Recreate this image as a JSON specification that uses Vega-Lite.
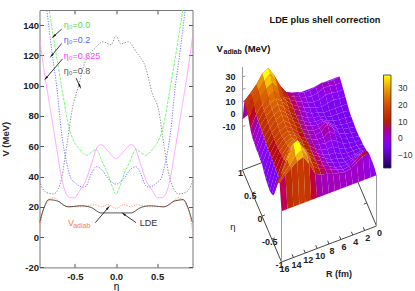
{"$schema":"https://vega.github.io/schema/vega-lite/v6.json","padding":{"left":0.5,"top":9,"right":0,"bottom":0},"background":"white","spacing":0,"bounds":"flush","config":{"view":{"stroke":null},"font":"Liberation Sans"},
"datasets":{
"curves":[
{"c":"g","eta":-0.82,"V":155},{"c":"g","eta":-0.81,"V":150},{"c":"g","eta":-0.76,"V":132},{"c":"g","eta":-0.66,"V":99},{"c":"g","eta":-0.57,"V":72},{"c":"g","eta":-0.5,"V":62},{"c":"g","eta":-0.45,"V":58.5},{"c":"g","eta":-0.36,"V":54},{"c":"g","eta":-0.3,"V":56},{"c":"g","eta":-0.24,"V":58},{"c":"g","eta":-0.17,"V":50},{"c":"g","eta":-0.1,"V":42},{"c":"g","eta":-0.05,"V":34},{"c":"g","eta":0,"V":28.5},{"c":"g","eta":0.05,"V":34},{"c":"g","eta":0.1,"V":42},{"c":"g","eta":0.17,"V":50},{"c":"g","eta":0.24,"V":58},{"c":"g","eta":0.3,"V":56},{"c":"g","eta":0.36,"V":54},{"c":"g","eta":0.45,"V":58.5},{"c":"g","eta":0.5,"V":62},{"c":"g","eta":0.57,"V":72},{"c":"g","eta":0.66,"V":99},{"c":"g","eta":0.76,"V":132},{"c":"g","eta":0.81,"V":150},{"c":"g","eta":0.82,"V":155},
{"c":"b","eta":-0.86,"V":160},{"c":"b","eta":-0.84,"V":150},{"c":"b","eta":-0.78,"V":123},{"c":"b","eta":-0.72,"V":99},{"c":"b","eta":-0.66,"V":68},{"c":"b","eta":-0.6,"V":49},{"c":"b","eta":-0.55,"V":39},{"c":"b","eta":-0.5,"V":36},{"c":"b","eta":-0.4,"V":33},{"c":"b","eta":-0.36,"V":34},{"c":"b","eta":-0.3,"V":42},{"c":"b","eta":-0.24,"V":46.5},{"c":"b","eta":-0.18,"V":45},{"c":"b","eta":-0.1,"V":39},{"c":"b","eta":0,"V":35},{"c":"b","eta":0.1,"V":39},{"c":"b","eta":0.18,"V":45},{"c":"b","eta":0.24,"V":46.5},{"c":"b","eta":0.3,"V":42},{"c":"b","eta":0.36,"V":34},{"c":"b","eta":0.4,"V":33},{"c":"b","eta":0.5,"V":36},{"c":"b","eta":0.55,"V":39},{"c":"b","eta":0.6,"V":49},{"c":"b","eta":0.66,"V":68},{"c":"b","eta":0.72,"V":99},{"c":"b","eta":0.78,"V":123},{"c":"b","eta":0.84,"V":150},{"c":"b","eta":0.86,"V":160},
{"c":"m","eta":-0.93,"V":132},{"c":"m","eta":-0.86,"V":105},{"c":"m","eta":-0.8,"V":85},{"c":"m","eta":-0.73,"V":61.6},{"c":"m","eta":-0.66,"V":39},{"c":"m","eta":-0.6,"V":28},{"c":"m","eta":-0.55,"V":26},{"c":"m","eta":-0.5,"V":26},{"c":"m","eta":-0.45,"V":30},{"c":"m","eta":-0.37,"V":37},{"c":"m","eta":-0.3,"V":48},{"c":"m","eta":-0.22,"V":60},{"c":"m","eta":-0.18,"V":61},{"c":"m","eta":-0.1,"V":57},{"c":"m","eta":0,"V":52},{"c":"m","eta":0.1,"V":57},{"c":"m","eta":0.18,"V":61},{"c":"m","eta":0.22,"V":60},{"c":"m","eta":0.3,"V":48},{"c":"m","eta":0.37,"V":37},{"c":"m","eta":0.45,"V":30},{"c":"m","eta":0.5,"V":26},{"c":"m","eta":0.55,"V":26},{"c":"m","eta":0.6,"V":28},{"c":"m","eta":0.66,"V":39},{"c":"m","eta":0.73,"V":61.6},{"c":"m","eta":0.8,"V":85},{"c":"m","eta":0.86,"V":105},{"c":"m","eta":0.93,"V":132},
{"c":"k","eta":-0.93,"V":37},{"c":"k","eta":-0.88,"V":31},{"c":"k","eta":-0.82,"V":29},{"c":"k","eta":-0.76,"V":28.5},{"c":"k","eta":-0.7,"V":32},{"c":"k","eta":-0.66,"V":39},{"c":"k","eta":-0.6,"V":60},{"c":"k","eta":-0.53,"V":85},{"c":"k","eta":-0.46,"V":99},{"c":"k","eta":-0.38,"V":115},{"c":"k","eta":-0.25,"V":125},{"c":"k","eta":-0.16,"V":129},{"c":"k","eta":-0.06,"V":127},{"c":"k","eta":0,"V":133},{"c":"k","eta":0.06,"V":127.6},{"c":"k","eta":0.15,"V":129},{"c":"k","eta":0.25,"V":122},{"c":"k","eta":0.36,"V":112},{"c":"k","eta":0.44,"V":95},{"c":"k","eta":0.52,"V":83.5},{"c":"k","eta":0.58,"V":61.6},{"c":"k","eta":0.65,"V":40},{"c":"k","eta":0.7,"V":32},{"c":"k","eta":0.76,"V":28.5},{"c":"k","eta":0.82,"V":29},{"c":"k","eta":0.88,"V":31},{"c":"k","eta":0.93,"V":37},
{"c":"a","eta":-0.93,"V":4},{"c":"a","eta":-0.88,"V":18.6},{"c":"a","eta":-0.76,"V":26},{"c":"a","eta":-0.62,"V":20.5},{"c":"a","eta":-0.42,"V":20},{"c":"a","eta":-0.25,"V":21.4},{"c":"a","eta":-0.18,"V":20},{"c":"a","eta":-0.1,"V":21.5},{"c":"a","eta":0,"V":19},{"c":"a","eta":0.1,"V":21.5},{"c":"a","eta":0.18,"V":20},{"c":"a","eta":0.25,"V":21.4},{"c":"a","eta":0.42,"V":20},{"c":"a","eta":0.62,"V":20.5},{"c":"a","eta":0.76,"V":26},{"c":"a","eta":0.88,"V":18.6},{"c":"a","eta":0.93,"V":4},
{"c":"l","eta":-0.93,"V":9.6},{"c":"l","eta":-0.88,"V":18.6},{"c":"l","eta":-0.82,"V":24.7},{"c":"l","eta":-0.72,"V":24},{"c":"l","eta":-0.58,"V":20},{"c":"l","eta":-0.42,"V":20.7},{"c":"l","eta":-0.3,"V":19.5},{"c":"l","eta":-0.18,"V":16},{"c":"l","eta":-0.1,"V":16},{"c":"l","eta":0,"V":16},{"c":"l","eta":0.1,"V":16},{"c":"l","eta":0.18,"V":16},{"c":"l","eta":0.3,"V":19.5},{"c":"l","eta":0.42,"V":20.7},{"c":"l","eta":0.58,"V":20},{"c":"l","eta":0.72,"V":24},{"c":"l","eta":0.82,"V":24.7},{"c":"l","eta":0.88,"V":18.6},{"c":"l","eta":0.93,"V":9.6}],
"arrows":[{"e1":-0.66,"v1":137.4,"e2":-0.76,"v2":132.5},{"e1":-0.66,"v1":127.9,"e2":-0.785,"v2":119.7},{"e1":-0.65,"v1":117.7,"e2":-0.855,"v2":104.7},{"e1":-0.485,"v1":105,"e2":-0.437,"v2":99.3},{"e1":-0.25,"v1":9.6,"e2":-0.093,"v2":19.6},{"e1":0.243,"v1":9.6,"e2":0.089,"v2":15.4}],
"notes":[{"t":"η₀=0.0","eta":-0.636,"V":140,"k":"g"},{"t":"η₀=0.2","eta":-0.636,"V":130.3,"k":"b"},{"t":"η₀=0.625","eta":-0.636,"V":119.7,"k":"m"},{"t":"η₀=0.8","eta":-0.636,"V":109.8,"k":"k"},{"t":"LDE","eta":0.29,"V":9.6,"k":"l"},{"t":"V","eta":-0.585,"V":9.6,"k":"a"}],
"surface":[
{"eta":1,"R":0,"V":1},{"eta":1,"R":1,"V":1},{"eta":1,"R":2,"V":1},{"eta":1,"R":3,"V":1},{"eta":1,"R":4,"V":0},{"eta":1,"R":5,"V":0},{"eta":1,"R":6,"V":0},{"eta":1,"R":7,"V":0},{"eta":1,"R":8,"V":0},{"eta":1,"R":9,"V":1},{"eta":1,"R":10,"V":2},{"eta":1,"R":11,"V":3},{"eta":1,"R":12,"V":4},{"eta":1,"R":13,"V":2},{"eta":1,"R":14,"V":0},{"eta":1,"R":15,"V":-2},{"eta":1,"R":16,"V":-4},
{"eta":0.9,"R":0,"V":5},{"eta":0.9,"R":1,"V":4.3},{"eta":0.9,"R":2,"V":4.5},{"eta":0.9,"R":3,"V":5.5},{"eta":0.9,"R":4,"V":4},{"eta":0.9,"R":5,"V":3},{"eta":0.9,"R":6,"V":3},{"eta":0.9,"R":7,"V":5},{"eta":0.9,"R":8,"V":6.5},{"eta":0.9,"R":9,"V":9},{"eta":0.9,"R":10,"V":16},{"eta":0.9,"R":11,"V":26},{"eta":0.9,"R":12,"V":34},{"eta":0.9,"R":13,"V":31},{"eta":0.9,"R":14,"V":24},{"eta":0.9,"R":15,"V":19},{"eta":0.9,"R":16,"V":14.6},
{"eta":0.8,"R":0,"V":4},{"eta":0.8,"R":1,"V":4},{"eta":0.8,"R":2,"V":5},{"eta":0.8,"R":3,"V":5},{"eta":0.8,"R":4,"V":3},{"eta":0.8,"R":5,"V":2},{"eta":0.8,"R":6,"V":3},{"eta":0.8,"R":7,"V":5},{"eta":0.8,"R":8,"V":7},{"eta":0.8,"R":9,"V":10},{"eta":0.8,"R":10,"V":16},{"eta":0.8,"R":11,"V":25},{"eta":0.8,"R":12,"V":33},{"eta":0.8,"R":13,"V":29},{"eta":0.8,"R":14,"V":23},{"eta":0.8,"R":15,"V":18},{"eta":0.8,"R":16,"V":12},
{"eta":0.7,"R":0,"V":2},{"eta":0.7,"R":1,"V":2},{"eta":0.7,"R":2,"V":3},{"eta":0.7,"R":3,"V":3},{"eta":0.7,"R":4,"V":1},{"eta":0.7,"R":5,"V":1},{"eta":0.7,"R":6,"V":2},{"eta":0.7,"R":7,"V":5},{"eta":0.7,"R":8,"V":7},{"eta":0.7,"R":9,"V":10},{"eta":0.7,"R":10,"V":15},{"eta":0.7,"R":11,"V":23},{"eta":0.7,"R":12,"V":29},{"eta":0.7,"R":13,"V":26},{"eta":0.7,"R":14,"V":21},{"eta":0.7,"R":15,"V":16},{"eta":0.7,"R":16,"V":8},
{"eta":0.6,"R":0,"V":0},{"eta":0.6,"R":1,"V":0},{"eta":0.6,"R":2,"V":1},{"eta":0.6,"R":3,"V":0},{"eta":0.6,"R":4,"V":-1},{"eta":0.6,"R":5,"V":0},{"eta":0.6,"R":6,"V":2},{"eta":0.6,"R":7,"V":4},{"eta":0.6,"R":8,"V":7},{"eta":0.6,"R":9,"V":10},{"eta":0.6,"R":10,"V":15},{"eta":0.6,"R":11,"V":21},{"eta":0.6,"R":12,"V":26},{"eta":0.6,"R":13,"V":23},{"eta":0.6,"R":14,"V":19},{"eta":0.6,"R":15,"V":13},{"eta":0.6,"R":16,"V":3},
{"eta":0.5,"R":0,"V":-2},{"eta":0.5,"R":1,"V":-2},{"eta":0.5,"R":2,"V":-2},{"eta":0.5,"R":3,"V":-2},{"eta":0.5,"R":4,"V":-2},{"eta":0.5,"R":5,"V":0},{"eta":0.5,"R":6,"V":1},{"eta":0.5,"R":7,"V":4},{"eta":0.5,"R":8,"V":7},{"eta":0.5,"R":9,"V":10},{"eta":0.5,"R":10,"V":14},{"eta":0.5,"R":11,"V":20},{"eta":0.5,"R":12,"V":24},{"eta":0.5,"R":13,"V":22},{"eta":0.5,"R":14,"V":18},{"eta":0.5,"R":15,"V":11},{"eta":0.5,"R":16,"V":0},
{"eta":0.4,"R":0,"V":-4},{"eta":0.4,"R":1,"V":-3},{"eta":0.4,"R":2,"V":-3},{"eta":0.4,"R":3,"V":-3},{"eta":0.4,"R":4,"V":-2},{"eta":0.4,"R":5,"V":1},{"eta":0.4,"R":6,"V":1},{"eta":0.4,"R":7,"V":3},{"eta":0.4,"R":8,"V":6},{"eta":0.4,"R":9,"V":9},{"eta":0.4,"R":10,"V":13},{"eta":0.4,"R":11,"V":19},{"eta":0.4,"R":12,"V":23},{"eta":0.4,"R":13,"V":21},{"eta":0.4,"R":14,"V":17},{"eta":0.4,"R":15,"V":11},{"eta":0.4,"R":16,"V":-1},
{"eta":0.3,"R":0,"V":-5},{"eta":0.3,"R":1,"V":-4},{"eta":0.3,"R":2,"V":-4},{"eta":0.3,"R":3,"V":-3},{"eta":0.3,"R":4,"V":-1},{"eta":0.3,"R":5,"V":2},{"eta":0.3,"R":6,"V":2},{"eta":0.3,"R":7,"V":3},{"eta":0.3,"R":8,"V":6},{"eta":0.3,"R":9,"V":9},{"eta":0.3,"R":10,"V":13},{"eta":0.3,"R":11,"V":18},{"eta":0.3,"R":12,"V":22},{"eta":0.3,"R":13,"V":20},{"eta":0.3,"R":14,"V":16},{"eta":0.3,"R":15,"V":10},{"eta":0.3,"R":16,"V":-2},
{"eta":0.2,"R":0,"V":-5},{"eta":0.2,"R":1,"V":-5},{"eta":0.2,"R":2,"V":-4},{"eta":0.2,"R":3,"V":-3},{"eta":0.2,"R":4,"V":1},{"eta":0.2,"R":5,"V":4},{"eta":0.2,"R":6,"V":3},{"eta":0.2,"R":7,"V":4},{"eta":0.2,"R":8,"V":6},{"eta":0.2,"R":9,"V":9},{"eta":0.2,"R":10,"V":13},{"eta":0.2,"R":11,"V":18},{"eta":0.2,"R":12,"V":22},{"eta":0.2,"R":13,"V":20},{"eta":0.2,"R":14,"V":15},{"eta":0.2,"R":15,"V":9},{"eta":0.2,"R":16,"V":-2},
{"eta":0.1,"R":0,"V":-6},{"eta":0.1,"R":1,"V":-5},{"eta":0.1,"R":2,"V":-4},{"eta":0.1,"R":3,"V":-2},{"eta":0.1,"R":4,"V":3},{"eta":0.1,"R":5,"V":7},{"eta":0.1,"R":6,"V":4},{"eta":0.1,"R":7,"V":4},{"eta":0.1,"R":8,"V":6},{"eta":0.1,"R":9,"V":9},{"eta":0.1,"R":10,"V":13},{"eta":0.1,"R":11,"V":17},{"eta":0.1,"R":12,"V":21},{"eta":0.1,"R":13,"V":19},{"eta":0.1,"R":14,"V":15},{"eta":0.1,"R":15,"V":8},{"eta":0.1,"R":16,"V":-3},
{"eta":0,"R":0,"V":-6},{"eta":0,"R":1,"V":-5},{"eta":0,"R":2,"V":-4},{"eta":0,"R":3,"V":-2},{"eta":0,"R":4,"V":4},{"eta":0,"R":5,"V":9},{"eta":0,"R":6,"V":5},{"eta":0,"R":7,"V":4},{"eta":0,"R":8,"V":6},{"eta":0,"R":9,"V":9},{"eta":0,"R":10,"V":12},{"eta":0,"R":11,"V":17},{"eta":0,"R":12,"V":20},{"eta":0,"R":13,"V":18},{"eta":0,"R":14,"V":14},{"eta":0,"R":15,"V":7},{"eta":0,"R":16,"V":-3},
{"eta":-0.1,"R":0,"V":-6},{"eta":-0.1,"R":1,"V":-5},{"eta":-0.1,"R":2,"V":-4},{"eta":-0.1,"R":3,"V":-2},{"eta":-0.1,"R":4,"V":3},{"eta":-0.1,"R":5,"V":7},{"eta":-0.1,"R":6,"V":4},{"eta":-0.1,"R":7,"V":4},{"eta":-0.1,"R":8,"V":6},{"eta":-0.1,"R":9,"V":9},{"eta":-0.1,"R":10,"V":12},{"eta":-0.1,"R":11,"V":17},{"eta":-0.1,"R":12,"V":20},{"eta":-0.1,"R":13,"V":18},{"eta":-0.1,"R":14,"V":14},{"eta":-0.1,"R":15,"V":7},{"eta":-0.1,"R":16,"V":-6},
{"eta":-0.2,"R":0,"V":-5},{"eta":-0.2,"R":1,"V":-5},{"eta":-0.2,"R":2,"V":-4},{"eta":-0.2,"R":3,"V":-3},{"eta":-0.2,"R":4,"V":1},{"eta":-0.2,"R":5,"V":4},{"eta":-0.2,"R":6,"V":3},{"eta":-0.2,"R":7,"V":4},{"eta":-0.2,"R":8,"V":6},{"eta":-0.2,"R":9,"V":9},{"eta":-0.2,"R":10,"V":13},{"eta":-0.2,"R":11,"V":18},{"eta":-0.2,"R":12,"V":21},{"eta":-0.2,"R":13,"V":19},{"eta":-0.2,"R":14,"V":14},{"eta":-0.2,"R":15,"V":7},{"eta":-0.2,"R":16,"V":-8},
{"eta":-0.3,"R":0,"V":-5},{"eta":-0.3,"R":1,"V":-4},{"eta":-0.3,"R":2,"V":-4},{"eta":-0.3,"R":3,"V":-3},{"eta":-0.3,"R":4,"V":-1},{"eta":-0.3,"R":5,"V":2},{"eta":-0.3,"R":6,"V":2},{"eta":-0.3,"R":7,"V":3},{"eta":-0.3,"R":8,"V":6},{"eta":-0.3,"R":9,"V":10},{"eta":-0.3,"R":10,"V":13},{"eta":-0.3,"R":11,"V":18},{"eta":-0.3,"R":12,"V":22},{"eta":-0.3,"R":13,"V":20},{"eta":-0.3,"R":14,"V":15},{"eta":-0.3,"R":15,"V":6},{"eta":-0.3,"R":16,"V":-9},
{"eta":-0.4,"R":0,"V":-4},{"eta":-0.4,"R":1,"V":-3},{"eta":-0.4,"R":2,"V":-3},{"eta":-0.4,"R":3,"V":-3},{"eta":-0.4,"R":4,"V":-2},{"eta":-0.4,"R":5,"V":1},{"eta":-0.4,"R":6,"V":1},{"eta":-0.4,"R":7,"V":3},{"eta":-0.4,"R":8,"V":6},{"eta":-0.4,"R":9,"V":10},{"eta":-0.4,"R":10,"V":13},{"eta":-0.4,"R":11,"V":19},{"eta":-0.4,"R":12,"V":24},{"eta":-0.4,"R":13,"V":21},{"eta":-0.4,"R":14,"V":15},{"eta":-0.4,"R":15,"V":6},{"eta":-0.4,"R":16,"V":-10},
{"eta":-0.5,"R":0,"V":-3},{"eta":-0.5,"R":1,"V":-1},{"eta":-0.5,"R":2,"V":-2},{"eta":-0.5,"R":3,"V":-2},{"eta":-0.5,"R":4,"V":-2},{"eta":-0.5,"R":5,"V":0},{"eta":-0.5,"R":6,"V":1},{"eta":-0.5,"R":7,"V":4},{"eta":-0.5,"R":8,"V":7},{"eta":-0.5,"R":9,"V":10},{"eta":-0.5,"R":10,"V":14},{"eta":-0.5,"R":11,"V":21},{"eta":-0.5,"R":12,"V":26},{"eta":-0.5,"R":13,"V":23},{"eta":-0.5,"R":14,"V":16},{"eta":-0.5,"R":15,"V":5},{"eta":-0.5,"R":16,"V":-9},
{"eta":-0.6,"R":0,"V":-2},{"eta":-0.6,"R":1,"V":2},{"eta":-0.6,"R":2,"V":1},{"eta":-0.6,"R":3,"V":0},{"eta":-0.6,"R":4,"V":-1},{"eta":-0.6,"R":5,"V":0},{"eta":-0.6,"R":6,"V":2},{"eta":-0.6,"R":7,"V":4},{"eta":-0.6,"R":8,"V":7},{"eta":-0.6,"R":9,"V":10},{"eta":-0.6,"R":10,"V":15},{"eta":-0.6,"R":11,"V":23},{"eta":-0.6,"R":12,"V":31},{"eta":-0.6,"R":13,"V":28},{"eta":-0.6,"R":14,"V":18},{"eta":-0.6,"R":15,"V":6},{"eta":-0.6,"R":16,"V":-6},
{"eta":-0.7,"R":0,"V":-1},{"eta":-0.7,"R":1,"V":5},{"eta":-0.7,"R":2,"V":5},{"eta":-0.7,"R":3,"V":3},{"eta":-0.7,"R":4,"V":1},{"eta":-0.7,"R":5,"V":1},{"eta":-0.7,"R":6,"V":2},{"eta":-0.7,"R":7,"V":5},{"eta":-0.7,"R":8,"V":7},{"eta":-0.7,"R":9,"V":10},{"eta":-0.7,"R":10,"V":14},{"eta":-0.7,"R":11,"V":24},{"eta":-0.7,"R":12,"V":33},{"eta":-0.7,"R":13,"V":34},{"eta":-0.7,"R":14,"V":23},{"eta":-0.7,"R":15,"V":14},{"eta":-0.7,"R":16,"V":7},
{"eta":-0.8,"R":0,"V":-1},{"eta":-0.8,"R":1,"V":10},{"eta":-0.8,"R":2,"V":9},{"eta":-0.8,"R":3,"V":5},{"eta":-0.8,"R":4,"V":3},{"eta":-0.8,"R":5,"V":2},{"eta":-0.8,"R":6,"V":4},{"eta":-0.8,"R":7,"V":6},{"eta":-0.8,"R":8,"V":8},{"eta":-0.8,"R":9,"V":10},{"eta":-0.8,"R":10,"V":14},{"eta":-0.8,"R":11,"V":24},{"eta":-0.8,"R":12,"V":31},{"eta":-0.8,"R":13,"V":28},{"eta":-0.8,"R":14,"V":22},{"eta":-0.8,"R":15,"V":17},{"eta":-0.8,"R":16,"V":11},
{"eta":-0.9,"R":0,"V":-2},{"eta":-0.9,"R":1,"V":12},{"eta":-0.9,"R":2,"V":11},{"eta":-0.9,"R":3,"V":8},{"eta":-0.9,"R":4,"V":5},{"eta":-0.9,"R":5,"V":4},{"eta":-0.9,"R":6,"V":5},{"eta":-0.9,"R":7,"V":6},{"eta":-0.9,"R":8,"V":8},{"eta":-0.9,"R":9,"V":9},{"eta":-0.9,"R":10,"V":11.6},{"eta":-0.9,"R":11,"V":21},{"eta":-0.9,"R":12,"V":28.7},{"eta":-0.9,"R":13,"V":27},{"eta":-0.9,"R":14,"V":23.5},{"eta":-0.9,"R":15,"V":20},{"eta":-0.9,"R":16,"V":15}],
"wall":[{"R":0,"top":-2,"low":-4,"shade":-1},{"R":1,"top":12,"low":-4,"shade":0},{"R":2,"top":11,"low":-4,"shade":1},{"R":3,"top":8,"low":-4,"shade":1},{"R":4,"top":5,"low":-4,"shade":1},{"R":5,"top":4,"low":-4,"shade":1},{"R":6,"top":5,"low":-4,"shade":2},{"R":7,"top":6,"low":-4,"shade":2},{"R":8,"top":8,"low":-4,"shade":2},{"R":9,"top":9,"low":-4,"shade":3},{"R":10,"top":11.6,"low":-4,"shade":8},{"R":11,"top":21,"low":-4,"shade":15},{"R":12,"top":28.7,"low":-4,"shade":16},{"R":13,"top":27,"low":-4,"shade":15},{"R":14,"top":23.5,"low":-4,"shade":13},{"R":15,"top":20,"low":-4,"shade":7},{"R":16,"top":15,"low":-4,"shade":2}],
"darkEdges":[{"R":16,"eta":-1,"V":-45,"R2":0,"eta2":-1,"V2":-45},{"R":16,"eta":-1,"V":-45,"R2":16,"eta2":1,"V2":-45},{"R":0,"eta":-1,"V":-45,"R2":0,"eta2":1,"V2":-45},{"R":16,"eta":1,"V":-45,"R2":0,"eta2":1,"V2":-45},
{"R":14,"eta":-1,"V":-45,"R2":14,"eta2":-0.93,"V2":-45},{"R":12,"eta":-1,"V":-45,"R2":12,"eta2":-0.93,"V2":-45},{"R":10,"eta":-1,"V":-45,"R2":10,"eta2":-0.93,"V2":-45},{"R":8,"eta":-1,"V":-45,"R2":8,"eta2":-0.93,"V2":-45},{"R":6,"eta":-1,"V":-45,"R2":6,"eta2":-0.93,"V2":-45},{"R":4,"eta":-1,"V":-45,"R2":4,"eta2":-0.93,"V2":-45},{"R":2,"eta":-1,"V":-45,"R2":2,"eta2":-0.93,"V2":-45},
{"R":16,"eta":0.5,"V":-45,"R2":15.5,"eta2":0.5,"V2":-45},{"R":16,"eta":0,"V":-45,"R2":15.5,"eta2":0,"V2":-45},{"R":16,"eta":-0.5,"V":-45,"R2":15.5,"eta2":-0.5,"V2":-45},{"R":0,"eta":-0.5,"V":-45,"R2":0.5,"eta2":-0.5,"V2":-45}],
"greyEdges":[{"R":16,"eta":1,"V":-45,"R2":16,"eta2":1,"V2":38},{"R":16,"eta":-1,"V":-45,"R2":16,"eta2":-1,"V2":-4},{"R":0,"eta":-1,"V":-45,"R2":0,"eta2":-1,"V2":-4},
{"R":16,"eta":1,"V":30,"R2":15.5,"eta2":1,"V2":30},{"R":16,"eta":1,"V":20,"R2":15.5,"eta2":1,"V2":20},{"R":16,"eta":1,"V":10,"R2":15.5,"eta2":1,"V2":10},{"R":16,"eta":1,"V":0,"R2":15.5,"eta2":1,"V2":0},{"R":16,"eta":1,"V":-10,"R2":15.5,"eta2":1,"V2":-10}],
"rLabels":[{"t":"16","R":16},{"t":"14","R":14},{"t":"12","R":12},{"t":"10","R":10},{"t":"8","R":8},{"t":"6","R":6},{"t":"4","R":4},{"t":"2","R":2},{"t":"0","R":0}],
"etaLabels":[{"t":"1","eta":1},{"t":"0.5","eta":0.5},{"t":"0","eta":0},{"t":"-0.5","eta":-0.5},{"t":"-1","eta":-1}],
"vLabels":[{"t":"30","V":30},{"t":"20","V":20},{"t":"10","V":10},{"t":"0","V":0},{"t":"-10","V":-10}]
},
"hconcat":[
{"width":153,"height":257.4,
"layer":[
{"data":{"name":"curves"},"mark":{"type":"line","clip":true,"strokeWidth":0.9,"interpolate":"monotone"},
"encoding":{"x":{"field":"eta","type":"quantitative","scale":{"domain":[-0.93,0.93],"nice":false,"zero":false},"axis":{"values":[-0.5,0,0.5],"title":"η","titleFontSize":10,"titleFontWeight":"normal","titlePadding":1,"labelFontSize":9.5,"labelFontWeight":"bold","labelColor":"#222","tickSize":-4,"tickColor":"#555","domainColor":"#777","domainWidth":1,"grid":false,"labelPadding":8,"labelExpr":"replace(datum.label,'−','-')"}},
"y":{"field":"V","type":"quantitative","scale":{"domain":[-20,150],"nice":false,"zero":false},"axis":{"values":[-20,0,20,40,60,80,100,120,140],"title":"V (MeV)","titleFontSize":9.5,"titleFontWeight":"bold","titleColor":"#222","titlePadding":12,"labelFontSize":9.5,"labelFontWeight":"bold","labelColor":"#222","tickSize":-4,"tickColor":"#555","domainColor":"#777","domainWidth":1,"grid":false,"labelPadding":5,"labelExpr":"replace(datum.label,'−','-')"}},
"color":{"field":"c","type":"nominal","legend":null,"scale":{"domain":["g","b","m","k","a","l"],"range":["#66f566","#7070ff","#ff99ff","#808080","#ff9060","#333333"]}},
"strokeDash":{"field":"c","type":"nominal","legend":null,"scale":{"domain":["g","b","m","k","a","l"],"range":[[3,1.2],[1.3,1.3],[1,0],[1.3,1.5],[1.3,1.3],[1,0]]}},
"order":{"field":"eta","type":"quantitative"}}},
{"data":{"name":"curves"},"mark":{"type":"line","opacity":0,"clip":true},
"encoding":{"x":{"field":"eta","type":"quantitative","axis":{"orient":"top","values":[-0.5,0,0.5],"labels":false,"title":null,"tickSize":-4,"tickColor":"#555","domainColor":"#777","domainWidth":1,"grid":false}},
"y":{"field":"V","type":"quantitative","axis":{"orient":"right","values":[-20,0,20,40,60,80,100,120,140],"labels":false,"title":null,"tickSize":-4,"tickColor":"#555","domainColor":"#777","domainWidth":1,"grid":false}}}},
{"data":{"name":"arrows"},"mark":{"type":"rule","color":"#222","strokeWidth":0.9},"encoding":{"x":{"field":"e1","type":"quantitative","axis":null},"y":{"field":"v1","type":"quantitative","axis":null},"x2":{"field":"e2"},"y2":{"field":"v2"}}},
{"data":{"name":"arrows"},"transform":[{"calculate":"atan2((datum.e2-datum.e1)*82.4,(datum.v2-datum.v1)*1.515)*180/PI","as":"heading"}],"mark":{"type":"point","shape":"M0,-1L0.4,1L-0.4,1Z","filled":true,"color":"#111","opacity":1,"size":26},"encoding":{"x":{"field":"e2","type":"quantitative","axis":null},"y":{"field":"v2","type":"quantitative","axis":null},"angle":{"field":"heading","type":"quantitative","scale":null}}},
{"data":{"name":"notes"},"mark":{"type":"text","align":"left","baseline":"middle","fontSize":9},"encoding":{"x":{"field":"eta","type":"quantitative","axis":null},"y":{"field":"V","type":"quantitative","axis":null},"text":{"field":"t"},"color":{"field":"k","type":"nominal","legend":null,"scale":{"domain":["g","b","m","k","a","l"],"range":["#55dd55","#6060ff","#ff40ff","#555555","#ff7744","#333333"]}}}},
{"data":{"values":[{"t":"adiab","eta":-0.52,"V":7.4}]},"mark":{"type":"text","align":"left","baseline":"middle","fontSize":7,"color":"#ff7744"},"encoding":{"x":{"field":"eta","type":"quantitative","axis":null},"y":{"field":"V","type":"quantitative","axis":null},"text":{"field":"t"}}}
],
"resolve":{"axis":{"x":"independent","y":"independent"},"scale":{"color":"independent","strokeDash":"independent"}}},
{"width":221,"height":282,
"title":{"text":"LDE plus shell correction","anchor":"middle","frame":"group","offset":-15,"dx":22,"fontSize":9.2,"fontWeight":"bold","color":"#111"},
"layer":[
{"data":{"name":"darkEdges"},"transform":[{"calculate":"283+(16-datum.R)*5.94-(datum.eta+1)*19.5","as":"sx"},{"calculate":"261-(16-datum.R)*2.25-(datum.eta+1)*46-(datum.V+45)*1.24","as":"sy"},{"calculate":"283+(16-datum.R2)*5.94-(datum.eta2+1)*19.5","as":"sx2"},{"calculate":"261-(16-datum.R2)*2.25-(datum.eta2+1)*46-(datum.V2+45)*1.24","as":"sy2"}],"mark":{"type":"rule","color":"#333","strokeWidth":0.9},"encoding":{"x":{"field":"sx","type":"quantitative","axis":null,"scale":{"domain":[194,415],"nice":false,"zero":false}},"y":{"field":"sy","type":"quantitative","axis":null,"scale":{"domain":[291,9],"nice":false,"zero":false}},"x2":{"field":"sx2"},"y2":{"field":"sy2"}}},
{"data":{"name":"greyEdges"},"transform":[{"calculate":"283+(16-datum.R)*5.94-(datum.eta+1)*19.5","as":"sx"},{"calculate":"261-(16-datum.R)*2.25-(datum.eta+1)*46-(datum.V+45)*1.24","as":"sy"},{"calculate":"283+(16-datum.R2)*5.94-(datum.eta2+1)*19.5","as":"sx2"},{"calculate":"261-(16-datum.R2)*2.25-(datum.eta2+1)*46-(datum.V2+45)*1.24","as":"sy2"}],"mark":{"type":"rule","color":"#999","strokeWidth":1},"encoding":{"x":{"field":"sx","type":"quantitative","axis":null},"y":{"field":"sy","type":"quantitative","axis":null},"x2":{"field":"sx2"},"y2":{"field":"sy2"}}},
{"data":{"name":"surface"},"projection":{"type":"identity","scale":1,"translate":[-194,-9]},
"transform":[{"window":[{"op":"lead","field":"V","as":"Vn"},{"op":"lead","field":"eta","as":"etan"}],"groupby":["R"],"sort":[{"field":"eta","order":"descending"}]},{"filter":"datum.etan!=null"},{"window":[{"op":"lead","field":"V","as":"Vr"},{"op":"lead","field":"Vn","as":"Vrn"},{"op":"lead","field":"R","as":"Rn"}],"groupby":["eta"],"sort":[{"field":"R","order":"ascending"}]},{"filter":"datum.Rn!=null"},
{"calculate":"283+(16-datum.R)*5.94-(datum.eta+1)*19.5","as":"x1"},{"calculate":"261-(16-datum.R)*2.25-(datum.eta+1)*46-(datum.V+45)*1.24","as":"y1"},
{"calculate":"283+(16-datum.Rn)*5.94-(datum.eta+1)*19.5","as":"x2"},{"calculate":"261-(16-datum.Rn)*2.25-(datum.eta+1)*46-(datum.Vr+45)*1.24","as":"y2"},
{"calculate":"283+(16-datum.Rn)*5.94-(datum.etan+1)*19.5","as":"x3"},{"calculate":"261-(16-datum.Rn)*2.25-(datum.etan+1)*46-(datum.Vrn+45)*1.24","as":"y3"},
{"calculate":"283+(16-datum.R)*5.94-(datum.etan+1)*19.5","as":"x4"},{"calculate":"261-(16-datum.R)*2.25-(datum.etan+1)*46-(datum.Vn+45)*1.24","as":"y4"},
{"calculate":"(datum.V+datum.Vn+datum.Vr+datum.Vrn)/4","as":"mean"},
{"calculate":"datum.mean<-7?-5.75+(datum.mean+7)*1.5:datum.mean<0?-4+datum.mean*0.25:datum.mean<6?datum.mean-4:datum.mean<12?2+(datum.mean-6)*10/6:datum.mean<25?datum.mean:datum.mean+(datum.mean-25)","as":"level"},
{"calculate":"{type:'Feature',properties:{},geometry:{type:'Polygon',coordinates:[[[datum.x1,datum.y1],[datum.x2,datum.y2],[datum.x3,datum.y3],[datum.x4,datum.y4],[datum.x1,datum.y1]]]}}","as":"cell"}],
"mark":{"type":"geoshape","strokeWidth":0},
"encoding":{"shape":{"field":"cell","type":"geojson"},"color":{"field":"level","type":"quantitative","scale":{"domain":[-18,-12.4,-6.8,-1.2,4.4,10,15.6,21.2,26.8,32.4,38],"range":["#000000","#500096","#7202f2","#8c07f2","#a11096","#b42000","#c63700","#d55700","#e48300","#f2ba00","#ffff00"]},"legend":{"type":"gradient","orient":"none","legendX":344,"legendY":65,"title":null,"direction":"vertical","gradientLength":93,"gradientThickness":7.5,"values":[-10,0,10,20,30],"labelFontSize":8.5,"labelColor":"#333","labelOffset":7,"gradientStrokeColor":"#333","gradientStrokeWidth":0.8}}}},
{"data":{"name":"wall"},"projection":{"type":"identity","scale":1,"translate":[-194,-9]},
"transform":[{"window":[{"op":"lead","field":"R","as":"Rn"},{"op":"lead","field":"top","as":"topn"},{"op":"lead","field":"low","as":"lown"}],"sort":[{"field":"R","order":"ascending"}]},{"filter":"datum.Rn!=null"},
{"calculate":"283+(16-datum.R)*5.94-1.95","as":"x1"},{"calculate":"261-(16-datum.R)*2.25-4.6-(datum.top+45)*1.24","as":"y1"},
{"calculate":"283+(16-datum.Rn)*5.94-1.95","as":"x2"},{"calculate":"261-(16-datum.Rn)*2.25-4.6-(datum.topn+45)*1.24","as":"y2"},
{"calculate":"283+(16-datum.Rn)*5.94","as":"x3"},{"calculate":"261-(16-datum.Rn)*2.25-(datum.lown+45)*1.24","as":"y3"},
{"calculate":"283+(16-datum.R)*5.94","as":"x4"},{"calculate":"261-(16-datum.R)*2.25-(datum.low+45)*1.24","as":"y4"},
{"calculate":"{type:'Feature',properties:{},geometry:{type:'Polygon',coordinates:[[[datum.x1,datum.y1],[datum.x2,datum.y2],[datum.x3,datum.y3],[datum.x4,datum.y4],[datum.x1,datum.y1]]]}}","as":"cell"}],
"mark":{"type":"geoshape","strokeWidth":0},"encoding":{"shape":{"field":"cell","type":"geojson"},"color":{"field":"shade","type":"quantitative","legend":null}}},
{"data":{"name":"rLabels"},"transform":[{"calculate":"283+(16-datum.R)*5.94","as":"sx"},{"calculate":"261-(16-datum.R)*2.25","as":"sy"}],"mark":{"type":"text","fontSize":9,"fontWeight":"bold","color":"#222","dx":3,"dy":7},"encoding":{"x":{"field":"sx","type":"quantitative","axis":null},"y":{"field":"sy","type":"quantitative","axis":null},"text":{"field":"t"}}},
{"data":{"name":"etaLabels"},"transform":[{"calculate":"283-(datum.eta+1)*19.5","as":"sx"},{"calculate":"261-(datum.eta+1)*46","as":"sy"}],"mark":{"type":"text","fontSize":9,"fontWeight":"bold","color":"#222","dx":-2,"dy":3},"encoding":{"x":{"field":"sx","type":"quantitative","axis":null},"y":{"field":"sy","type":"quantitative","axis":null},"text":{"field":"t"}}},
{"data":{"name":"vLabels"},"transform":[{"calculate":"244","as":"sx"},{"calculate":"169-(datum.V+45)*1.24","as":"sy"}],"mark":{"type":"text","fontSize":9,"fontWeight":"bold","color":"#222","align":"right","dx":-7},"encoding":{"x":{"field":"sx","type":"quantitative","axis":null},"y":{"field":"sy","type":"quantitative","axis":null},"text":{"field":"t"}}},
{"data":{"values":[{"t":"R (fm)","R":8,"eta":-1}]},"transform":[{"calculate":"283+(16-datum.R)*5.94-(datum.eta+1)*19.5","as":"sx"},{"calculate":"261-(16-datum.R)*2.25-(datum.eta+1)*46","as":"sy"}],"mark":{"type":"text","fontSize":9,"fontWeight":"bold","color":"#222","dx":10,"dy":30},"encoding":{"x":{"field":"sx","type":"quantitative","axis":null},"y":{"field":"sy","type":"quantitative","axis":null},"text":{"field":"t"}}},
{"data":{"values":[{"t":"η","R":16,"eta":0}]},"transform":[{"calculate":"283+(16-datum.R)*5.94-(datum.eta+1)*19.5","as":"sx"},{"calculate":"261-(16-datum.R)*2.25-(datum.eta+1)*46","as":"sy"}],"mark":{"type":"text","fontSize":9.5,"color":"#222","dx":-29,"dy":11},"encoding":{"x":{"field":"sx","type":"quantitative","axis":null},"y":{"field":"sy","type":"quantitative","axis":null},"text":{"field":"t"}}},
{"data":{"values":[{"t":"V","V":52.8,"off":-26,"low":0,"size":9.5},{"t":"adiab","V":52.8,"off":-19,"low":3,"size":7},{"t":"(MeV)","V":52.8,"off":2,"low":0,"size":9.5}]},"transform":[{"calculate":"244+datum.off","as":"sx"},{"calculate":"169-(datum.V+45)*1.24+datum.low","as":"sy"}],"mark":{"type":"text","fontWeight":"bold","color":"#111","align":"left"},"encoding":{"x":{"field":"sx","type":"quantitative","axis":null},"y":{"field":"sy","type":"quantitative","axis":null},"text":{"field":"t"},"size":{"field":"size","type":"quantitative","scale":null,"legend":null}}}
]}
]}
